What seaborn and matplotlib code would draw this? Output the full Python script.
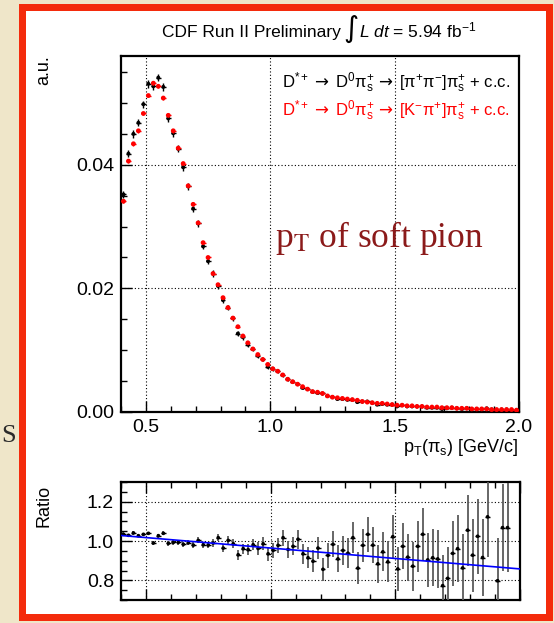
import numpy as np
import pandas as pd
import matplotlib
matplotlib.use("Agg")
import matplotlib.pyplot as plt
import seaborn as sns
from matplotlib.patches import Rectangle
from matplotlib.ticker import MultipleLocator

W, H = 554, 623

# ---------------- data ----------------
pt_low, pt_high, bin_w = 0.40, 2.00, 0.02
pt = np.round(np.arange(pt_low + bin_w / 2, pt_high, bin_w), 3)

pipi = [0.0352, 0.0418, 0.0450, 0.0468, 0.0498, 0.0531, 0.0527, 0.0541, 0.0526, 0.0475,
        0.0451, 0.0426, 0.0396, 0.0365, 0.0329, 0.0305, 0.0268, 0.0244, 0.0224, 0.0204,
        0.0181, 0.0169, 0.0152, 0.0127, 0.0121, 0.0109, 0.0102, 0.0091, 0.0085, 0.0073,
        0.0070, 0.0066, 0.0060, 0.0053, 0.0049, 0.0045, 0.0039, 0.0037, 0.0033, 0.0031,
        0.0030, 0.0026, 0.0024, 0.0021, 0.0021, 0.0020, 0.0020, 0.0016, 0.0017, 0.0017,
        0.0015, 0.0012, 0.0013, 0.0012, 0.0012, 0.0009, 0.0011, 0.0009, 0.0009, 0.0009,
        0.0009, 0.0007, 0.0007, 0.0007, 0.0005, 0.0006, 0.0007, 0.0006, 0.0005, 0.0006,
        0.0005, 0.0005, 0.0005, 0.0006, 0.0004, 0.0003, 0.0004, 0.0004, 0.0003, 0.0003]
pipi_err = [0.0006, 0.0006, 0.0006, 0.0006, 0.0006, 0.0006, 0.0006, 0.0006, 0.0006, 0.0006,
            0.0006, 0.0006, 0.0006, 0.0006, 0.0005, 0.0005, 0.0005, 0.0005, 0.0005, 0.0005,
            0.0004, 0.0004, 0.0004, 0.0004, 0.0004, 0.0004, 0.0003, 0.0003, 0.0003, 0.0003,
            0.0003, 0.0003, 0.0003, 0.0003, 0.0002, 0.0002, 0.0002, 0.0002, 0.0002, 0.0002,
            0.0002, 0.0002, 0.0002, 0.0002, 0.0002, 0.0002, 0.0002, 0.0002, 0.0002, 0.0002,
            0.0001, 0.0001, 0.0001, 0.0001, 0.0001, 0.0001, 0.0001, 0.0001, 0.0001, 0.0001,
            0.0001, 0.0001, 0.0001, 0.0001, 0.0001, 0.0001, 0.0001, 0.0001, 0.0001, 0.0001,
            0.0001, 0.0001, 0.0001, 0.0001, 0.0001, 0.0001, 0.0001, 0.0001, 0.0001, 0.0001]

kpi = [0.0341, 0.0406, 0.0434, 0.0455, 0.0483, 0.0512, 0.0532, 0.0527, 0.0508, 0.0480,
       0.0455, 0.0427, 0.0402, 0.0366, 0.0336, 0.0306, 0.0274, 0.0250, 0.0224, 0.0206,
       0.0185, 0.0169, 0.0152, 0.0138, 0.0123, 0.0112, 0.0102, 0.0093, 0.0085, 0.0077,
       0.0070, 0.0066, 0.0060, 0.0053, 0.0049, 0.0045, 0.0041, 0.0037, 0.0033, 0.0032,
       0.0030, 0.0026, 0.0024, 0.0023, 0.0022, 0.0021, 0.0020, 0.0019, 0.0017, 0.0016,
       0.0015, 0.0014, 0.0014, 0.0013, 0.0012, 0.0011, 0.0011, 0.0010, 0.0010, 0.0009,
       0.0009, 0.0008, 0.0008, 0.0008, 0.0007, 0.0007, 0.0007, 0.0006, 0.0006, 0.0006,
       0.0005, 0.0005, 0.0005, 0.0005, 0.0004, 0.0004, 0.0004, 0.0004, 0.0004, 0.0003]
kpi_err = [0.0003, 0.0003, 0.0003, 0.0003, 0.0003, 0.0003, 0.0003, 0.0003, 0.0003, 0.0003,
           0.0003, 0.0003, 0.0003, 0.0003, 0.0003, 0.0002, 0.0002, 0.0002, 0.0002, 0.0002,
           0.0002, 0.0002, 0.0002, 0.0002, 0.0002, 0.0002, 0.0001, 0.0001, 0.0001, 0.0001,
           0.0001, 0.0001, 0.0001, 0.0001, 0.0001, 0.0001, 0.0001, 0.0001, 0.0001, 0.0001,
           0.0001, 0.0001, 0.0001, 0.0001, 0.0001, 0.0001, 0.0001, 0.0001, 0.0001, 0.0001,
           0.0001, 0.0001, 0.0001, 0.0001, 0.0001, 0.0001, 0.0001, 0.0001, 0.0001, 0.0001,
           0.0001, 0.0001, 0.0001, 0.0001, 0.0001, 0.0001, 0.0001, 0.0001, 0.0001, 0.0001,
           0.0001, 0.0001, 0.0001, 0.0001, 0.0001, 0.0001, 0.0001, 0.0001, 0.0001, 0.0001]

ratio = [1.034, 1.029, 1.041, 1.027, 1.034, 1.039, 0.990, 1.027, 1.039, 0.988,
         0.993, 0.993, 0.983, 0.991, 0.979, 1.003, 0.981, 0.979, 0.990, 1.017,
         0.964, 1.003, 0.986, 0.930, 0.961, 0.956, 0.981, 0.962, 0.986, 0.935,
         0.952, 0.978, 1.017, 0.957, 0.973, 1.009, 0.935, 0.915, 0.897, 0.964,
         0.856, 0.927, 0.983, 0.909, 0.952, 0.938, 1.017, 0.862, 0.978, 1.034,
         0.979, 0.884, 0.945, 0.894, 1.022, 0.858, 0.973, 0.918, 0.872, 0.973,
         1.034, 0.904, 0.915, 0.909, 0.773, 0.810, 0.937, 0.961, 0.863, 1.055,
         0.928, 1.024, 0.916, 1.123, np.nan, 0.798, 1.068, 1.068, np.nan, np.nan]
ratio_err = [0.010, 0.009, 0.009, 0.009, 0.009, 0.009, 0.010, 0.010, 0.010, 0.011,
             0.011, 0.012, 0.012, 0.013, 0.014, 0.015, 0.016, 0.017, 0.018, 0.019,
             0.020, 0.022, 0.023, 0.025, 0.026, 0.028, 0.029, 0.031, 0.033, 0.035,
             0.037, 0.039, 0.041, 0.043, 0.045, 0.048, 0.050, 0.053, 0.055, 0.058,
             0.060, 0.063, 0.066, 0.069, 0.072, 0.075, 0.078, 0.082, 0.085, 0.089,
             0.093, 0.097, 0.100, 0.104, 0.108, 0.112, 0.116, 0.120, 0.125, 0.130,
             0.134, 0.139, 0.144, 0.149, 0.154, 0.159, 0.164, 0.170, 0.175, 0.181,
             0.186, 0.192, 0.198, 0.204, 0.210, 0.216, 0.222, 0.228, 0.234, 0.240]

fit_pt = [0.40, 2.00]
fit_ratio = [1.028, 0.858]

x_ticks = [0.5, 1.0, 1.5, 2.0]
y_ticks_main = [0.00, 0.02, 0.04]
y_ticks_ratio = [0.8, 1.0, 1.2]

df = pd.DataFrame({"pt": pt, "pipi": pipi, "kpi": kpi, "ratio": ratio})
df_fit = pd.DataFrame({"pt": fit_pt, "ratio": fit_ratio})

# ---------------- style ----------------
sns.set_theme(style="white")
plt.rcParams["font.family"] = ["Liberation Sans", "DejaVu Sans"]
plt.rcParams["mathtext.fontset"] = "custom"
plt.rcParams["mathtext.rm"] = "Liberation Sans"
plt.rcParams["mathtext.it"] = "Liberation Sans:italic"
plt.rcParams["mathtext.bf"] = "Liberation Sans:bold"
plt.rcParams["mathtext.sf"] = "DejaVu Sans"

fig = plt.figure(figsize=(W / 100, H / 100), dpi=100, facecolor="#efe6c9")

# slide frame
fig.add_artist(Rectangle((19 / W, 1 - 621 / H), (553 - 19) / W, (621 - 4) / H,
                         transform=fig.transFigure, facecolor="#f42b0c",
                         edgecolor="none", zorder=0))
fig.add_artist(Rectangle((26 / W, 1 - 614 / H), (546 - 26) / W, (614 - 11) / H,
                         transform=fig.transFigure, facecolor="white",
                         edgecolor="none", zorder=0))
fig.text(1 / W, 1 - 442 / H, "S", family="Liberation Serif", fontsize=19,
         color="#2b2b2b", ha="left", va="baseline")

ax1 = fig.add_axes([121 / W, 1 - 412 / H, 398 / W, 356 / H])
ax2 = fig.add_axes([121 / W, 1 - 600 / H, 399 / W, 118 / H])

grid_kw = dict(color="black", linestyle=(0, (1, 2)), linewidth=0.8, zorder=1)

# ---- main panel ----
for v in [0.5, 1.0, 1.5]:
    ax1.axvline(v, **grid_kw)
for v in [0.02, 0.04]:
    ax1.axhline(v, **grid_kw)

ax1.errorbar(df["pt"], df["pipi"], xerr=bin_w / 2, yerr=pipi_err, fmt="none",
             ecolor="black", elinewidth=1.0, zorder=3)
sns.scatterplot(data=df, x="pt", y="pipi", ax=ax1, color="black", s=8,
                edgecolor="none", zorder=4, legend=False)
ax1.errorbar(df["pt"], df["kpi"], xerr=bin_w / 2, yerr=kpi_err, fmt="none",
             ecolor="red", elinewidth=1.0, zorder=5)
sns.scatterplot(data=df, x="pt", y="kpi", ax=ax1, color="red", s=12,
                edgecolor="none", zorder=6, legend=False)

ax1.set_xlim(pt_low, pt_high)
ax1.set_ylim(0.0, 0.0576)
ax1.set_xticks(x_ticks)
ax1.set_xticklabels(["0.5", "1.0", "1.5", "2.0"])
ax1.xaxis.set_minor_locator(MultipleLocator(0.1))
ax1.set_yticks(y_ticks_main)
ax1.set_yticklabels(["0.00", "0.02", "0.04"])
ax1.yaxis.set_minor_locator(MultipleLocator(0.005))
ax1.set_xlabel("")
ax1.set_ylabel("")

# ---- ratio panel ----
for v in [0.5, 1.0, 1.5]:
    ax2.axvline(v, **grid_kw)
for v in y_ticks_ratio:
    ax2.axhline(v, **grid_kw)

ax2.errorbar(df["pt"], df["ratio"], yerr=ratio_err, fmt="none",
             ecolor="#5a5a5a", elinewidth=1.3, zorder=3)
ax2.errorbar(df["pt"], df["ratio"], xerr=bin_w / 2, fmt="none",
             ecolor="black", elinewidth=1.0, zorder=4)
sns.scatterplot(data=df, x="pt", y="ratio", ax=ax2, color="black", s=7,
                edgecolor="none", zorder=5, legend=False)
sns.lineplot(data=df_fit, x="pt", y="ratio", ax=ax2, color="#0000ff",
             linewidth=1.2, zorder=6)

ax2.set_xlim(pt_low, pt_high)
ax2.set_ylim(0.7, 1.3)
ax2.set_xticks(x_ticks)
ax2.set_xticklabels([])
ax2.xaxis.set_minor_locator(MultipleLocator(0.1))
ax2.set_yticks(y_ticks_ratio)
ax2.set_yticklabels(["0.8", "1.0", "1.2"])
ax2.yaxis.set_minor_locator(MultipleLocator(0.05))
ax2.set_xlabel("")
ax2.set_ylabel("")

for ax in (ax1, ax2):
    ax.set_facecolor("white")
    for s in ax.spines.values():
        s.set_color("black")
        s.set_linewidth(1.6)
    ax.tick_params(which="both", direction="in", colors="black", labelsize=14,
                   bottom=True, left=True, pad=5)
    ax.tick_params(which="major", length=8, width=1.0)
    ax.tick_params(which="minor", length=4, width=1.0)
ax2.tick_params(which="both", top=True)

# ---- title built from pieces (big integral sign) ----
renderer = fig.canvas.get_renderer()
title_parts = [
    ("CDF Run II Preliminary ", dict(fontsize=12.5)),
    ("\u222b", dict(fontsize=21, family="DejaVu Sans", fontstyle="italic")),
    (r"$\mathit{L\ dt}$ = 5.94 fb$^{\mathregular{-1}}$", dict(fontsize=12.5)),
]
x_cursor = 162
base_y = 1 - 37 / H
for txt, kw in title_parts:
    t = fig.text(x_cursor / W, base_y, txt, ha="left", va="baseline", color="black", **kw)
    bb = t.get_window_extent(renderer=renderer)
    x_cursor += bb.width - (2 if txt.endswith(" ") else 0)

# legend-like labels
arr = r"\,\mathsf{\rightarrow}\;"
leg1 = (r"D$^{*+}" + arr + r"$D$^{0}\mathrm{\pi}_{\mathrm{s}}^{+}" + arr + r"$"
        r"[$\mathrm{\pi}^{+}\mathrm{\pi}^{-}$]$\mathrm{\pi}_{\mathrm{s}}^{+}$ + c.c.")
leg2 = (r"D$^{*+}" + arr + r"$D$^{0}\mathrm{\pi}_{\mathrm{s}}^{+}" + arr + r"$"
        r"[K$^{-}\mathrm{\pi}^{+}$]$\mathrm{\pi}_{\mathrm{s}}^{+}$ + c.c.")
fig.text(510 / W, 1 - 88 / H, leg1, fontsize=12,
         ha="right", va="baseline", color="black")
fig.text(510 / W, 1 - 116 / H, leg2, fontsize=12,
         ha="right", va="baseline", color="red")

fig.text(275 / W, 1 - 247 / H, r"p$_{\mathrm{T}}$ of soft pion", fontsize=25.5,
         family="Liberation Serif", color="#8b1a1a", ha="left", va="baseline",
         math_fontfamily="stix")

fig.text(519 / W, 1 - 452 / H,
         r"p$_{\mathrm{T}}$($\mathrm{\pi}_{\mathrm{s}}$) [GeV/c]",
         fontsize=13, ha="right", va="baseline", color="black")
fig.text(44 / W, 1 - 55 / H, "a.u.", fontsize=13, rotation=90,
         ha="center", va="top", color="black")
fig.text(44 / W, 1 - 485 / H, "Ratio", fontsize=13, rotation=90,
         ha="center", va="top", color="black")

fig.savefig("out.png", dpi=100, facecolor=fig.get_facecolor())
